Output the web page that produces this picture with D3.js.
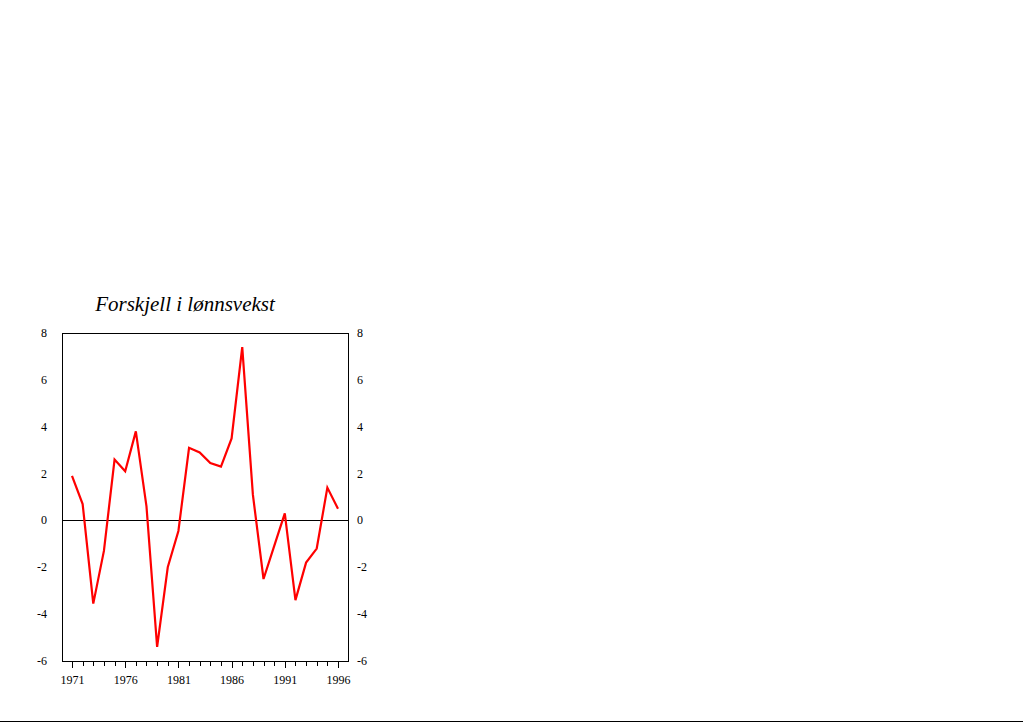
<!DOCTYPE html>
<html>
<head>
<meta charset="utf-8">
<title>Forskjell i lønnsvekst</title>
<script src="https://d3js.org/d3.v7.min.js"></script>
<style>
  body { margin: 0; background: #fff; }
  text { font-family: "Liberation Serif", "DejaVu Serif", serif; }
</style>
</head>
<body>
<svg id="chart" width="1023" height="724"></svg>
<script>
// values
var years = d3.range(1971, 1997);
var diff = [1.9, 0.7, -3.55, -1.3, 2.6, 2.1, 3.8, 0.6, -5.4, -2.0, -0.45, 3.1, 2.9, 2.45, 2.3, 3.5,
            7.4, 1.1, -2.5, -1.1, 0.3, -3.4, -1.8, -1.2, 1.4, 0.5];
var yTicks = [-6, -4, -2, 0, 2, 4, 6, 8];
var xLabels = [1971, 1976, 1981, 1986, 1991, 1996];

var svg = d3.select("#chart");
var L = 62, R = 348, T = 333, B = 661;

var x = d3.scaleLinear().domain([1971, 1996]).range([72, 338]);
var y = d3.scaleLinear().domain([-6, 8]).range([B, T]);

// frame
svg.append("rect").attr("x", L).attr("y", T).attr("width", R - L).attr("height", B - T)
  .attr("fill", "none").attr("stroke", "#000").attr("stroke-width", 1).attr("shape-rendering", "crispEdges");

// zero line
svg.append("line").attr("x1", L).attr("x2", R).attr("y1", y(0)).attr("y2", y(0))
  .attr("stroke", "#000").attr("shape-rendering", "crispEdges");

// y labels both sides
svg.selectAll(".yl").data(yTicks).enter().append("text")
  .attr("x", 47).attr("y", function(d) { return y(d) + 4; })
  .attr("text-anchor", "end").attr("font-size", 12).text(function(d) { return d; });
svg.selectAll(".yr").data(yTicks).enter().append("text")
  .attr("x", 357).attr("y", function(d) { return y(d) + 4; })
  .attr("text-anchor", "start").attr("font-size", 12).text(function(d) { return d; });

// x axis ticks
var xAxis = d3.axisBottom(x).tickValues(years).tickSize(5)
  .tickFormat(function(d) { return xLabels.indexOf(d) >= 0 ? d : ""; });
var gx = svg.append("g").attr("transform", "translate(0," + B + ")").call(xAxis);
gx.select(".domain").remove();
gx.selectAll(".tick line").attr("y2", function(d) { return xLabels.indexOf(d) >= 0 ? 7 : 5; })
  .attr("shape-rendering", "crispEdges");
gx.selectAll(".tick text").attr("y", 14).attr("font-size", 12)
  .attr("font-family", "Liberation Serif, serif").attr("fill", "#000");

// line
var line = d3.line().x(function(d, i) { return x(years[i]); }).y(function(d) { return y(d); });
svg.append("path").datum(diff).attr("d", line)
  .attr("fill", "none").attr("stroke", "#ff0000").attr("stroke-width", 2.2);

// title
svg.append("text").attr("x", 185).attr("y", 311).attr("text-anchor", "middle")
  .attr("font-size", 21).attr("font-style", "italic").text("Forskjell i lønnsvekst");

// bottom rule
svg.append("line").attr("x1", 0).attr("x2", 1023).attr("y1", 721.5).attr("y2", 721.5)
  .attr("stroke", "#000");
</script>
</body>
</html>
